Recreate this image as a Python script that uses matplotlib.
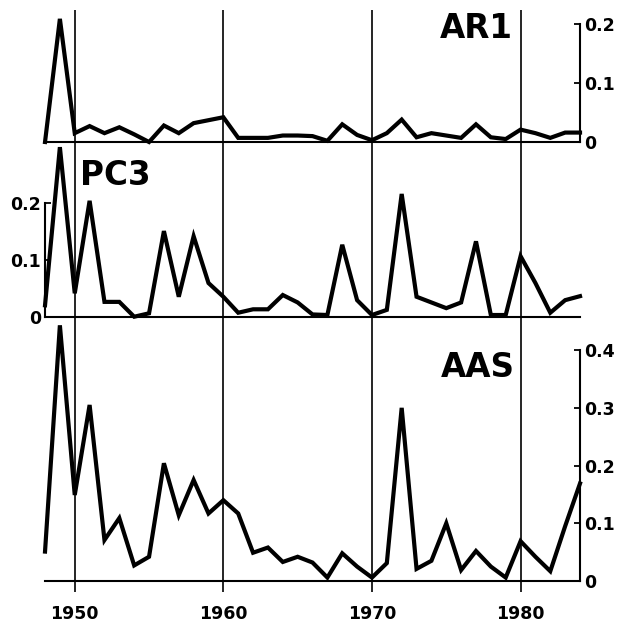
#!/usr/bin/env python3
"""Three stacked annual series (AR1, PC3, AAS), 1948-1984."""

import matplotlib
matplotlib.use("Agg")
import matplotlib.pyplot as plt

years = [1948, 1949, 1950, 1951, 1952, 1953, 1954, 1955, 1956, 1957,
         1958, 1959, 1960, 1961, 1962, 1963, 1964, 1965, 1966, 1967,
         1968, 1969, 1970, 1971, 1972, 1973, 1974, 1975, 1976, 1977,
         1978, 1979, 1980, 1981, 1982, 1983, 1984]

ar1 = [0.0, 0.209, 0.015, 0.027, 0.015, 0.025, 0.013, 0.0, 0.028, 0.015,
       0.032, 0.037, 0.042, 0.007, 0.007, 0.007, 0.011, 0.011, 0.010, 0.002,
       0.030, 0.012, 0.003, 0.015, 0.038, 0.008, 0.015, 0.011, 0.007, 0.030,
       0.008, 0.005, 0.021, 0.015, 0.007, 0.016, 0.016]

pc3 = [0.020, 0.297, 0.041, 0.203, 0.026, 0.026, 0.0, 0.006, 0.150, 0.035,
       0.141, 0.059, 0.035, 0.007, 0.013, 0.013, 0.038, 0.025, 0.004, 0.003,
       0.126, 0.029, 0.003, 0.012, 0.215, 0.035, 0.025, 0.015, 0.025, 0.132,
       0.003, 0.003, 0.106, 0.059, 0.007, 0.029, 0.036]

aas = [0.051, 0.443, 0.149, 0.305, 0.071, 0.109, 0.027, 0.042, 0.204, 0.114,
       0.175, 0.117, 0.140, 0.117, 0.049, 0.058, 0.033, 0.042, 0.032, 0.006,
       0.048, 0.025, 0.006, 0.031, 0.300, 0.021, 0.035, 0.100, 0.019, 0.052,
       0.025, 0.006, 0.069, 0.042, 0.017, 0.095, 0.169]

decades = [1950, 1960, 1970, 1980]
decade_labels = ["1950", "1960", "1970", "1980"]

ar1_ticks = [0, 0.1, 0.2]
ar1_ticklabels = ["0", "0.1", "0.2"]
pc3_ticks = [0, 0.1, 0.2]
pc3_ticklabels = ["0", "0.1", "0.2"]
aas_ticks = [0, 0.1, 0.2, 0.3, 0.4]
aas_ticklabels = ["0", "0.1", "0.2", "0.3", "0.4"]

plt.rcParams["font.family"] = ["DejaVu Sans"]
plt.rcParams["font.weight"] = "bold"

LW = 3.0
TICK_FS = 12.5
TITLE_FS = 23.5

fig = plt.figure(figsize=(6.21, 6.22), dpi=100)
left, width = 0.0725, 0.8615
ax_top = fig.add_axes([left, 0.7717, width, 0.2122])
ax_mid = fig.add_axes([left, 0.4908, width, 0.2809])
ax_bot = fig.add_axes([left, 0.0659, width, 0.4250])

panels = [
    (ax_top, ar1, 0.224, "right", ar1_ticks, ar1_ticklabels, 0.2),
    (ax_mid, pc3, 0.306, "left", pc3_ticks, pc3_ticklabels, 0.2),
    (ax_bot, aas, 0.458, "right", aas_ticks, aas_ticklabels, 0.4),
]

for ax, values, ytop, side, ticks, ticklabels, spine_top in panels:
    ax.set_xlim(1948, 1984)
    ax.set_ylim(0, ytop)
    ax.patch.set_alpha(0)
    for name in ("top", "left", "right"):
        ax.spines[name].set_visible(False)
    ax.spines["bottom"].set_linewidth(1.5)
    ax.spines[side].set_visible(True)
    ax.spines[side].set_linewidth(1.5)
    ax.spines[side].set_bounds(0, spine_top)
    if side == "right":
        ax.yaxis.tick_right()
    else:
        ax.yaxis.tick_left()
    ax.set_yticks(ticks)
    ax.set_yticklabels(ticklabels, fontsize=TICK_FS, fontweight="bold")
    ax.tick_params(axis="y", direction="in", length=4, width=1.3, pad=3)
    for d in decades:
        ax.axvline(d, color="black", linewidth=1.2, zorder=1)
    ax.plot(years, values, color="black", linewidth=LW,
            solid_joinstyle="miter", clip_on=False, zorder=3)
    ax.set_xticks([])

ax_bot.set_xticks(decades)
ax_bot.set_xticklabels(decade_labels, fontsize=TICK_FS, fontweight="bold")
ax_bot.tick_params(axis="x", direction="out", length=8, width=1.2, pad=9)

ax_top.text(0.875, 0.786, "AR1", transform=ax_top.transAxes, ha="right",
            va="baseline", fontsize=TITLE_FS, fontweight="bold")
ax_mid.text(0.0654, 0.754, "PC3", transform=ax_mid.transAxes, ha="left",
            va="baseline", fontsize=TITLE_FS, fontweight="bold")
ax_bot.text(0.8785, 0.773, "AAS", transform=ax_bot.transAxes, ha="right",
            va="baseline", fontsize=TITLE_FS, fontweight="bold")

fig.savefig("out.png", dpi=100, facecolor="white")
